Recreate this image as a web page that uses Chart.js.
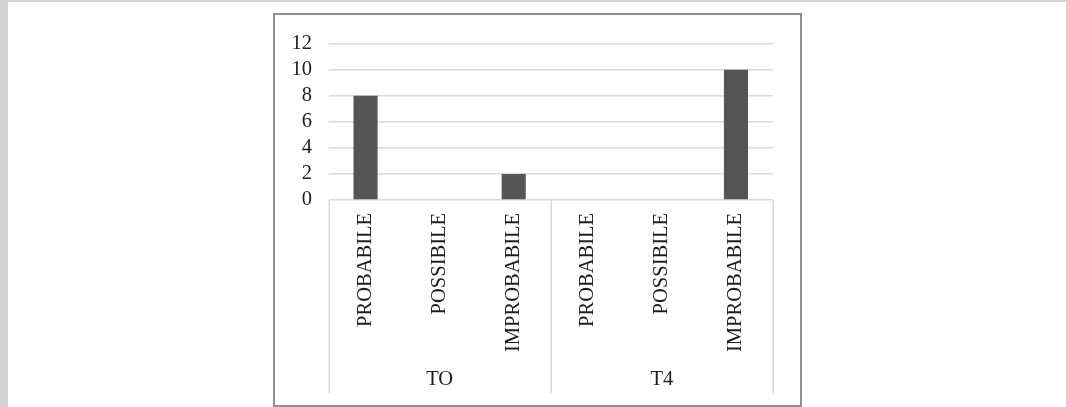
<!DOCTYPE html>
<html>
<head>
<meta charset="utf-8">
<script src="https://cdn.jsdelivr.net/npm/chart.js@4.4.1/dist/chart.umd.min.js"></script>
<style>
  html, body { margin: 0; padding: 0; }
  body { width: 1067px; height: 407px; background: #d4d4d4; position: relative; overflow: hidden; }
  #page { position: absolute; left: 8px; top: 2px; width: 1058px; height: 405px; background: #ffffff; }
  #box { position: absolute; left: 273px; top: 13px; width: 525px; height: 390px; border: 2px solid #8e8e8e; background: #ffffff; }
  #box canvas { display: block; }
</style>
</head>
<body>
<div id="page"></div>
<div id="box"><canvas id="c" width="525" height="390"></canvas></div>
<script>
// ---- data ----
const groups = ['TO', 'T4'];
const subCategories = ['PROBABILE', 'POSSIBILE', 'IMPROBABILE'];
const valuesTO = [8, 0, 2];
const valuesT4 = [0, 0, 10];
const yTicks = [0, 2, 4, 6, 8, 10, 12];

const categories = groups.flatMap(() => subCategories);
const values = valuesTO.concat(valuesT4);

const FONT_FAMILY = "'Liberation Serif', 'Times New Roman', serif";
const TEXT_COLOR = '#1e1e1e';
const GRID_COLOR = '#d9d9d9';

const groupSeparators = {
  id: 'groupSeparators',
  afterDraw(chart) {
    const x = chart.scales.x;
    const x2 = chart.scales.x2;
    const ctx = chart.ctx;
    const per = subCategories.length;
    ctx.save();
    ctx.strokeStyle = GRID_COLOR;
    ctx.lineWidth = 1.5;
    for (let g = 0; g <= groups.length; g++) {
      const px = Math.round(x.getPixelForValue(g * per - 0.5)) + 0.25;
      ctx.beginPath();
      ctx.moveTo(px, chart.chartArea.bottom);
      ctx.lineTo(px, x2.bottom - 12);
      ctx.stroke();
    }
    ctx.restore();
  }
};

new Chart(document.getElementById('c'), {
  type: 'bar',
  data: {
    labels: categories,
    datasets: [{
      data: values,
      backgroundColor: '#555555',
      borderWidth: 0,
      barPercentage: 0.325,
      categoryPercentage: 1.0
    }]
  },
  options: {
    responsive: false,
    devicePixelRatio: 1,
    animation: false,
    layout: { padding: { left: 0, right: 27, top: 26.5, bottom: 0 } },
    plugins: { legend: { display: false }, tooltip: { enabled: false } },
    scales: {
      y: {
        min: yTicks[0],
        max: yTicks[yTicks.length - 1],
        afterBuildTicks: (s) => { s.ticks = yTicks.map(v => ({ value: v })); },
        afterFit: (s) => { s.width = 53.5; },
        grid: { color: GRID_COLOR, lineWidth: 1.5, drawTicks: false },
        border: { display: false },
        ticks: {
          autoSkip: false,
          stepSize: 2,
          padding: 16.5,
          color: TEXT_COLOR,
          font: { family: FONT_FAMILY, size: 20.5 }
        }
      },
      x: {
        weight: 0,
        afterFit: (s) => { s.height = 163; },
        grid: { display: false, drawTicks: false },
        border: { display: false },
        ticks: {
          autoSkip: false,
          minRotation: 90,
          maxRotation: 90,
          padding: 13,
          color: TEXT_COLOR,
          font: { family: FONT_FAMILY, size: 20.5 }
        }
      },
      x2: {
        type: 'category',
        position: 'bottom',
        weight: 1,
        labels: groups,
        offset: true,
        afterFit: (s) => { s.height = 42; },
        grid: { display: false, drawTicks: false },
        border: { display: false },
        ticks: {
          autoSkip: false,
          maxRotation: 0,
          minRotation: 0,
          padding: 4.7,
          color: TEXT_COLOR,
          font: { family: FONT_FAMILY, size: 20.5 }
        }
      }
    }
  },
  plugins: [groupSeparators]
});
</script>
</body>
</html>
